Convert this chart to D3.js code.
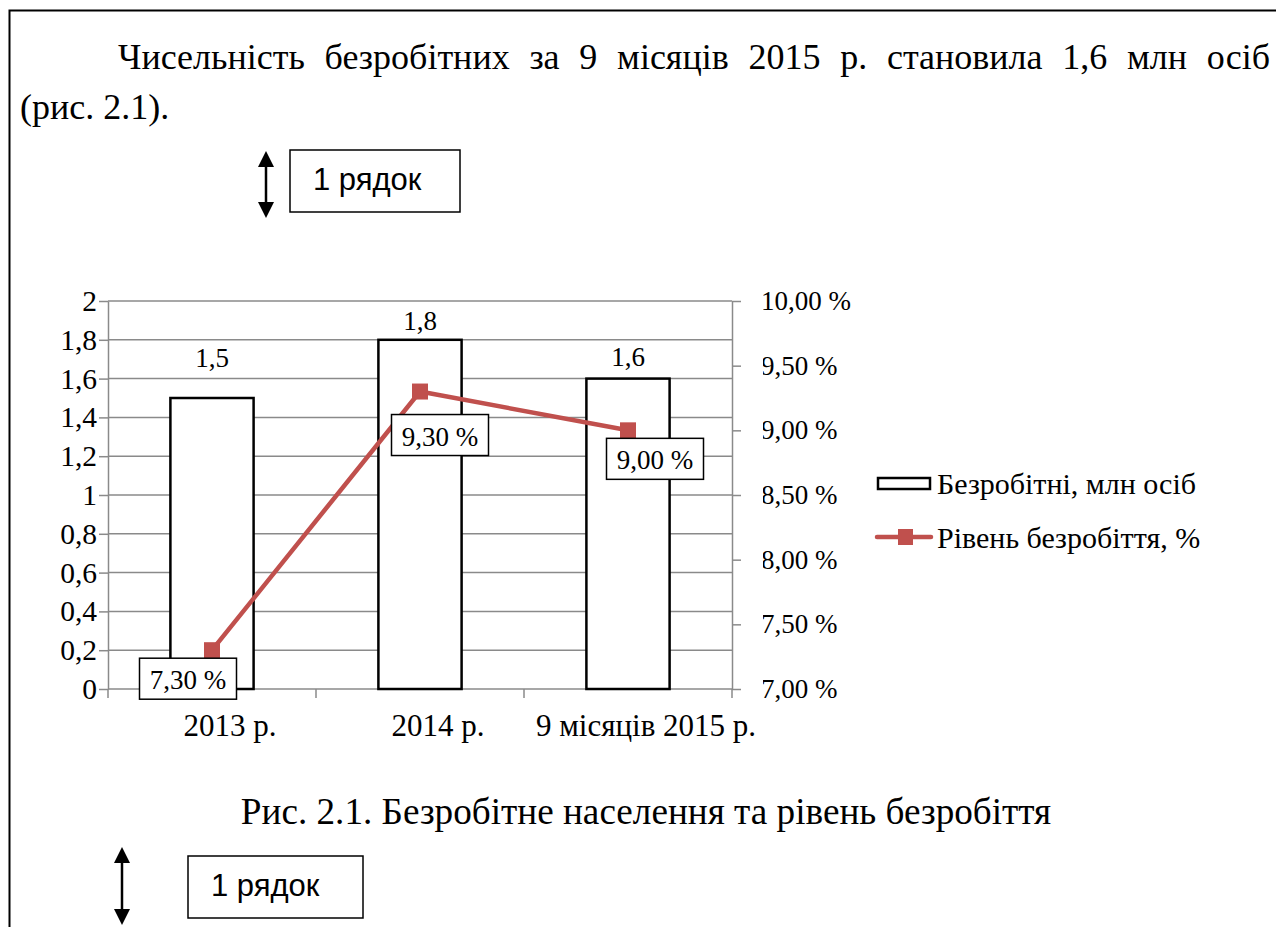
<!DOCTYPE html>
<html>
<head>
<meta charset="utf-8">
<script src="https://cdn.jsdelivr.net/npm/d3@7"></script>
<style>
  body { margin: 0; background: #fff; }
  svg { display: block; }
  .serif { font-family: "Liberation Serif", "Times New Roman", serif; }
  .sans { font-family: "Liberation Sans", Arial, sans-serif; }
</style>
</head>
<body>
<div class="page"></div>
<script>
// chart data
const categories = ["2013 р.", "2014 р.", "9 місяців 2015 р."];
const unemployed = [1.5, 1.8, 1.6];          // млн осіб
const rate = [7.3, 9.3, 9.0];                // %
const leftTicks = [0, 0.2, 0.4, 0.6, 0.8, 1, 1.2, 1.4, 1.6, 1.8, 2];
const rightTicks = [7, 7.5, 8, 8.5, 9, 9.5, 10];
const seriesNames = ["Безробітні, млн осіб", "Рівень безробіття, %"];

// page text
const line1 = "Чисельність безробітних за 9 місяців 2015 р. становила 1,6 млн осіб";
const line2 = "(рис. 2.1).";
const caption = "Рис. 2.1. Безробітне населення та рівень безробіття";
const spacerText = "1 рядок";

// label nudges as Excel placed them (layout only)
const barLabelDy = [-31, -10, -13];
const rateLabelOffset = [[-24, 8], [20, 23], [27, 8]];

const width = 1276, height = 927;
const red = "#c0504d", grid = "#8a8a8a";

const svg = d3.select(".page").append("svg")
    .attr("width", width)
    .attr("height", height)
    .attr("viewBox", [0, 0, width, height]);

svg.append("rect").attr("width", width).attr("height", height).attr("fill", "#fff");

// page frame
svg.append("path")
    .attr("d", `M9.5,${height} V10.5 H${width}`)
    .attr("fill", "none").attr("stroke", "#000").attr("stroke-width", 2);

// justified first line
const words = line1.split(" ");
const wg = svg.append("g").attr("class", "serif").style("font-size", "36px");
const wt = wg.selectAll("text").data(words).join("text")
    .attr("y", 69)
    .text(d => d);
const widths = wt.nodes().map(n => n.getComputedTextLength());
const gap = (1270 - 118 - d3.sum(widths)) / (words.length - 1);
let cx = 118;
wt.attr("x", (d, i) => { const v = cx; cx += widths[i] + gap; return v; });

svg.append("text").attr("class", "serif").style("font-size", "36px")
    .attr("x", 20).attr("y", 119).text(line2);

// "1 рядок" spacers
function spacer(ax, ay1, ay2, bx, by, bw, bh) {
  const g = svg.append("g");
  g.append("line").attr("x1", ax).attr("x2", ax).attr("y1", ay1 + 14).attr("y2", ay2 - 14)
      .attr("stroke", "#000").attr("stroke-width", 2.5);
  g.append("path").attr("d", `M${ax},${ay1} l-8,16 h16 z M${ax},${ay2} l-8,-16 h16 z`).attr("fill", "#000");
  g.append("rect").attr("x", bx).attr("y", by).attr("width", bw).attr("height", bh)
      .attr("fill", "#fff").attr("stroke", "#000").attr("stroke-width", 1.5);
  g.append("text").attr("class", "sans").style("font-size", "31px")
      .attr("x", bx + 23).attr("y", by + 40).text(spacerText);
}
spacer(266, 151, 218, 290, 150, 170, 62);
spacer(122, 847, 925, 188, 856, 175, 62);

// chart
const x = d3.scaleBand().domain(categories).range([108, 732]);
const y = d3.scaleLinear().domain([0, 2]).range([689, 301]);
const y2 = d3.scaleLinear().domain([7, 10]).range([689, 301]);
const bw = x.bandwidth();
const fmtL = d => String(d).replace(".", ",");
const fmtR = d => d3.format(".2f")(d).replace(".", ",") + " %";

const chart = svg.append("g").attr("class", "serif").style("font-size", "27px");

chart.append("g").selectAll("line").data(leftTicks).join("line")
    .attr("x1", 108).attr("x2", 732)
    .attr("y1", d => y(d)).attr("y2", d => y(d))
    .attr("stroke", grid).attr("stroke-width", 1.5);

const leftAxis = chart.append("g")
    .attr("transform", "translate(108,0)")
    .call(d3.axisLeft(y).tickValues(leftTicks).tickFormat(fmtL).tickSize(9).tickSizeOuter(0).tickPadding(2));

// clip in each tick's own coordinates: labels cut a little at the left, as in Excel
svg.append("clipPath").attr("id", "rclip")
    .append("rect").attr("x", 31).attr("y", -30).attr("width", 200).attr("height", 60);
const rightAxis = chart.append("g")
    .attr("transform", "translate(732,0)")
    .call(d3.axisRight(y2).tickValues(rightTicks).tickFormat(fmtR).tickSize(9).tickSizeOuter(0).tickPadding(20));
rightAxis.selectAll("text").attr("clip-path", "url(#rclip)");

[leftAxis, rightAxis].forEach(a => {
  a.attr("font-family", null).attr("font-size", null);
  a.select(".domain").attr("stroke", grid).attr("stroke-width", 1.5);
  a.selectAll(".tick line").attr("stroke", grid).attr("stroke-width", 1.5);
  a.selectAll(".tick text").attr("fill", "#000");
});
leftAxis.style("font-size", "29.5px");
rightAxis.style("font-size", "27px");

// category axis
const bounds = d3.range(categories.length + 1).map(i => x.range()[0] + i * x.step());
chart.append("g").selectAll("line").data(bounds).join("line")
    .attr("x1", d => d).attr("x2", d => d)
    .attr("y1", y(0)).attr("y2", y(0) + 9)
    .attr("stroke", grid).attr("stroke-width", 1.5);

svg.append("clipPath").attr("id", "cclip")
    .append("rect").attr("x", 184).attr("y", 690).attr("width", 700).attr("height", 60);
chart.append("g").attr("clip-path", "url(#cclip)").style("font-size", "31px")
  .selectAll("text").data(categories).join("text")
    .attr("x", d => x(d) + bw / 2 + 18)
    .attr("y", 736)
    .attr("text-anchor", "middle")
    .text(d => d);

// bars
chart.append("g").selectAll("rect").data(unemployed).join("rect")
    .attr("x", (d, i) => x(categories[i]) + bw * 0.3)
    .attr("width", bw * 0.4)
    .attr("y", d => y(d))
    .attr("height", d => y(0) - y(d))
    .attr("fill", "#fff").attr("stroke", "#000").attr("stroke-width", 2.5);

chart.append("g").selectAll("text").data(unemployed).join("text")
    .attr("x", (d, i) => x(categories[i]) + bw / 2)
    .attr("y", (d, i) => y(d) + barLabelDy[i])
    .attr("text-anchor", "middle")
    .text(fmtL);

// rate line
const pts = rate.map((d, i) => [x(categories[i]) + bw / 2, y2(d)]);
chart.append("path").datum(pts)
    .attr("d", d3.line())
    .attr("fill", "none").attr("stroke", red).attr("stroke-width", 4.5);
chart.append("g").selectAll("rect").data(pts).join("rect")
    .attr("x", d => d[0] - 8).attr("y", d => d[1] - 8)
    .attr("width", 16).attr("height", 16).attr("fill", red);

const rl = chart.append("g").selectAll("g").data(rate).join("g")
    .attr("transform", (d, i) => `translate(${pts[i][0] + rateLabelOffset[i][0]},${pts[i][1] + rateLabelOffset[i][1]})`);
rl.append("rect").attr("x", -48.5).attr("y", 0).attr("width", 97).attr("height", 41)
    .attr("fill", "#fff").attr("stroke", "#000").attr("stroke-width", 1.5);
rl.append("text").attr("text-anchor", "middle").attr("y", 31).text(fmtR);

// legend
const lg = chart.append("g");
lg.append("rect").attr("x", 878).attr("y", 478).attr("width", 52).attr("height", 11)
    .attr("fill", "#fff").attr("stroke", "#000").attr("stroke-width", 2.5);
lg.append("line").attr("x1", 877).attr("x2", 931).attr("y1", 537).attr("y2", 537)
    .attr("stroke", red).attr("stroke-width", 4.5).attr("stroke-linecap", "round");
lg.append("rect").attr("x", 898).attr("y", 529).attr("width", 15).attr("height", 16).attr("fill", red);
lg.selectAll("text").data(seriesNames).join("text")
    .style("font-size", "30px")
    .attr("x", 937).attr("y", (d, i) => 494 + i * 54)
    .text(d => d);

// caption
svg.append("text").attr("class", "serif").style("font-size", "37.2px")
    .attr("x", 646).attr("y", 824).attr("text-anchor", "middle").text(caption);
</script>
</body>
</html>
